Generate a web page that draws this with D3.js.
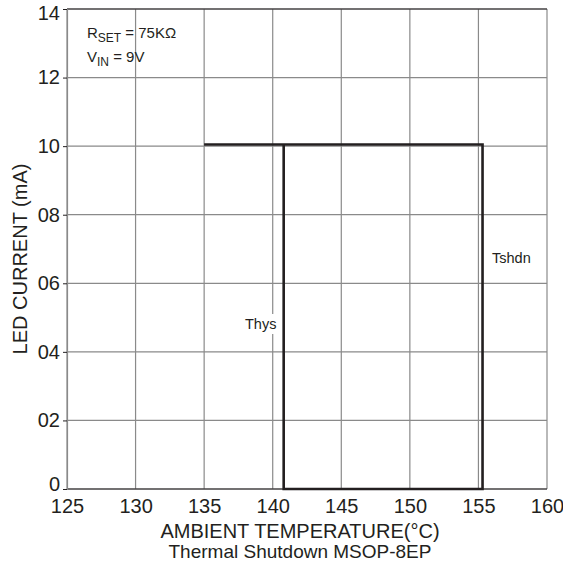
<!DOCTYPE html>
<html>
<head>
<meta charset="utf-8">
<script src="https://cdn.jsdelivr.net/npm/d3@7"></script>
<style>
  body { margin: 0; background: #fff; }
  text { font-family: "Liberation Sans", Arial, sans-serif; fill: #231f20; }
</style>
</head>
<body>
<script>
// temperature ticks and current ticks
var xTicks = [125, 130, 135, 140, 145, 150, 155, 160];
var yTicks = [0, 2, 4, 6, 8, 10, 12, 14];
var yTickLabels = ["0", "02", "04", "06", "08", "10", "12", "14"];

// hysteresis loop (temperature, LED current mA)
var loopTemp = [135, 155.3, 155.3, 140.8, 140.8];
var loopCurrent = [10.05, 10.05, 0, 0, 10.05];

var width = 563, height = 569;
// note: "top" is taken by window.top, so use plot* names
var plotLeft = 67, plotRight = 547, plotTop = 9, plotBottom = 489;

var svg = d3.select('body')
    .append('svg')
    .attr('width', width)
    .attr('height', height);

var x = d3.scaleLinear().domain([125, 160]).range([plotLeft, plotRight]);
var y = d3.scaleLinear().domain([0, 14]).range([plotBottom, plotTop]);

// grid
svg.selectAll('.vgrid')
    .data(xTicks)
    .enter()
    .append('line')
    .attr('x1', function(d){ return x(d) })
    .attr('x2', function(d){ return x(d) })
    .attr('y1', plotTop)
    .attr('y2', plotBottom)
    .attr('stroke', '#8a8a8a')
    .attr('stroke-width', 1.2);

svg.selectAll('.hgrid')
    .data(yTicks)
    .enter()
    .append('line')
    .attr('x1', plotLeft)
    .attr('x2', plotRight)
    .attr('y1', function(d){ return y(d) })
    .attr('y2', function(d){ return y(d) })
    .attr('stroke', '#8a8a8a')
    .attr('stroke-width', 1.2);

// frame: top and bottom dark
svg.append('line').attr('x1', plotLeft).attr('x2', plotRight).attr('y1', plotTop).attr('y2', plotTop)
    .attr('stroke', '#231f20').attr('stroke-width', 1.2);
svg.append('line').attr('x1', plotLeft).attr('x2', plotRight).attr('y1', plotBottom).attr('y2', plotBottom)
    .attr('stroke', '#231f20').attr('stroke-width', 1.2);

// axes ticks + labels
var yAxis = d3.axisLeft(y).tickValues(yTicks).tickSize(4).tickPadding(3)
    .tickFormat(function(d, i){ return yTickLabels[i] });
var gy = svg.append('g').attr('transform', 'translate(' + plotLeft + ',0)').call(yAxis);
gy.select('.domain').attr('stroke', '#8a8a8a').attr('stroke-width', 1.2);
gy.selectAll('line').attr('stroke', '#231f20');
gy.selectAll('text').style('font-size', '20px').attr('fill', '#231f20')
    .attr('y', function(d){ return d == 0 ? -5 : (d == 14 ? 4 : 0) });

var xAxis = d3.axisBottom(x).tickValues(xTicks).tickSize(0).tickPadding(10);
var gx = svg.append('g').attr('transform', 'translate(0,' + plotBottom + ')').call(xAxis);
gx.select('.domain').remove();
gx.selectAll('text').style('font-size', '20px').attr('fill', '#231f20');

// the loop
var pts = loopTemp.map(function(t, i){ return [t, loopCurrent[i]] });
var line = d3.line().x(function(d){ return x(d[0]) }).y(function(d){ return y(d[1]) });
svg.append('path')
    .attr('d', line(pts))
    .attr('fill', 'none')
    .attr('stroke', '#231f20')
    .attr('stroke-width', 2.6);

// annotations
var rs = svg.append('text').attr('x', 87).attr('y', 38).style('font-size', '15px');
rs.append('tspan').text('R');
rs.append('tspan').attr('dy', 4).style('font-size', '12px').text('SET');
rs.append('tspan').attr('dy', -4).text(' = 75KΩ');

var vi = svg.append('text').attr('x', 87).attr('y', 62).style('font-size', '15px');
vi.append('tspan').text('V');
vi.append('tspan').attr('dy', 4).style('font-size', '12px').text('IN');
vi.append('tspan').attr('dy', -4).text(' = 9V');

svg.append('rect').attr('x', 243).attr('y', 314).attr('width', 36).attr('height', 20).attr('fill', '#fff');
svg.append('text').attr('x', 245).attr('y', 329).style('font-size', '14.5px').text('Thys');
svg.append('text').attr('x', 492).attr('y', 263).style('font-size', '14.5px').text('Tshdn');

// axis titles
svg.append('text')
    .attr('transform', 'translate(27,259) rotate(-90)')
    .attr('text-anchor', 'middle')
    .style('font-size', '20px')
    .text('LED CURRENT (mA)');

svg.append('text').attr('x', 300).attr('y', 538).attr('text-anchor', 'middle')
    .style('font-size', '20px').text('AMBIENT TEMPERATURE(°C)');
svg.append('text').attr('x', 300).attr('y', 558).attr('text-anchor', 'middle')
    .style('font-size', '19px').text('Thermal Shutdown MSOP-8EP');
</script>
</body>
</html>
